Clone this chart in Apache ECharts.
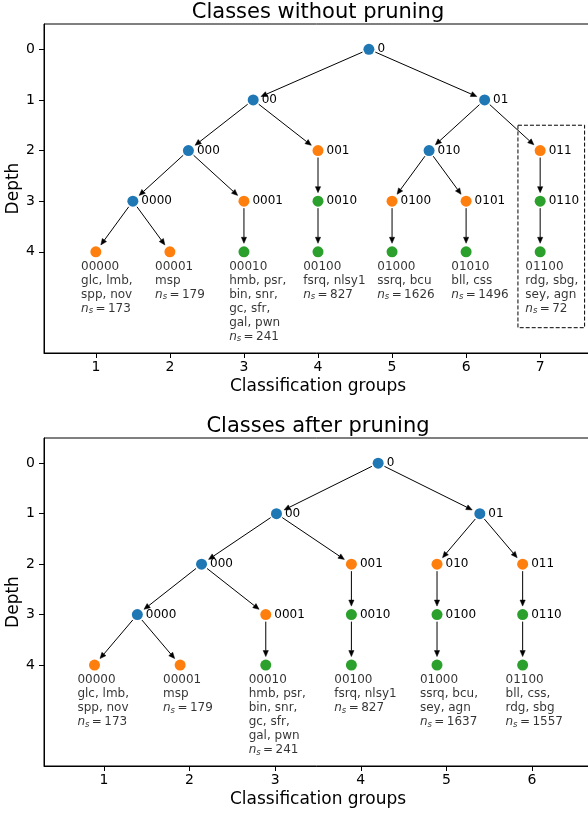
<!DOCTYPE html>
<html>
<head>
<meta charset="utf-8">
<script src="https://cdn.jsdelivr.net/npm/echarts@6/dist/echarts.min.js"></script>
<style>
  html, body { margin: 0; padding: 0; background: #fff; }
  #chart { width: 588px; height: 814px; }
</style>
</head>
<body>
<div id="chart"></div>
<script>
// Classification tree: leaf classes before and after pruning.
const depthTicks = [0, 1, 2, 3, 4];

const fullGroups = [1, 2, 3, 4, 5, 6, 7];
const fullLeafCodes = ['00000', '00001', '00010', '00100', '01000', '01010', '01100'];
const fullLeafClasses = [
  ['glc, lmb,', 'spp, nov'],
  ['msp'],
  ['hmb, psr,', 'bin, snr,', 'gc, sfr,', 'gal, pwn'],
  ['fsrq, nlsy1'],
  ['ssrq, bcu'],
  ['bll, css'],
  ['rdg, sbg,', 'sey, agn']
];
const fullLeafCounts = [173, 179, 241, 827, 1626, 1496, 72];

const prunedGroups = [1, 2, 3, 4, 5, 6];
const prunedLeafCodes = ['00000', '00001', '00010', '00100', '01000', '01100'];
const prunedLeafClasses = [
  ['glc, lmb,', 'spp, nov'],
  ['msp'],
  ['hmb, psr,', 'bin, snr,', 'gc, sfr,', 'gal, pwn'],
  ['fsrq, nlsy1'],
  ['ssrq, bcu,', 'sey, agn'],
  ['bll, css,', 'rdg, sbg']
];
const prunedLeafCounts = [173, 179, 241, 827, 1637, 1557];

// branch of the unpruned tree that collapses into a single chain
const collapsedBranch = '011';

const FONT = 'DejaVu Sans';
const ROLE_COLORS = { split: '#1f77b4', branch: '#ff7f0e', chain: '#2ca02c' };

// Lay the tree out: leaves sit on their group, every inner node sits
// halfway between its children, depth is the code length.
function buildTree(groups, codes, shift) {
  const nodes = {};
  codes.forEach((c, i) => {
    nodes[c] = { code: c, x: groups[i] + shift, depth: c.length - 1, children: [], leaf: i };
  });
  codes.forEach(c => {
    for (let k = 1; k < c.length; k++) {
      const p = c.slice(0, k);
      if (!nodes[p]) nodes[p] = { code: p, depth: k - 1, children: [], leaf: -1 };
    }
  });
  Object.values(nodes).forEach(n => {
    if (n.code.length > 1) nodes[n.code.slice(0, -1)].children.push(n.code);
  });
  Object.values(nodes)
    .sort((a, b) => b.depth - a.depth)
    .forEach(n => {
      if (n.leaf < 0) {
        n.x = n.children.reduce((s, c) => s + nodes[c].x, 0) / n.children.length;
      }
    });
  Object.values(nodes).forEach(n => {
    const parent = n.code.length > 1 ? nodes[n.code.slice(0, -1)] : null;
    if (n.children.length === 2) n.role = 'split';
    else if (parent && parent.children.length === 2) n.role = 'branch';
    else n.role = 'chain';
  });
  return nodes;
}

const richStyles = {
  i: { fontFamily: FONT, fontSize: 12, fontStyle: 'italic', lineHeight: 14, color: '#000' },
  s: { fontFamily: FONT, fontSize: 8.5, fontStyle: 'italic', lineHeight: 14, color: '#000',
       verticalAlign: 'bottom', padding: [0, 0, 0, 0] },
  t: { fontFamily: FONT, fontSize: 12, lineHeight: 14, color: '#000' }
};

function leafText(code, classes, count) {
  return [code].concat(classes).join('\n') +
    '\n{i|n}{s|s}{t|\u2009=\u2009' + count + '}';
}

function treeSeries(nodes, classes, counts, gridIdx) {
  const list = Object.values(nodes);
  const nodeData = list.map(n => ({
    name: n.code,
    value: [n.x, n.depth],
    itemStyle: { color: ROLE_COLORS[n.role], opacity: 1 },
    label: { show: n.leaf < 0 }
  }));
  const edgeData = list
    .filter(n => n.code.length > 1)
    .map(n => {
      const p = nodes[n.code.slice(0, -1)];
      return [p.x, p.depth, n.x, n.depth];
    });
  const textData = list
    .filter(n => n.leaf >= 0)
    .map(n => ({
      value: [n.x - 0.2, n.depth],
      label: { formatter: leafText(n.code, classes[n.leaf], counts[n.leaf]) }
    }));

  return [
    {
      type: 'custom',
      xAxisIndex: gridIdx, yAxisIndex: gridIdx,
      coordinateSystem: 'cartesian2d',
      silent: true,
      z: 2,
      encode: { x: [0, 2], y: [1, 3] },
      data: edgeData,
      renderItem: (params, api) => {
        const a = api.coord([api.value(0), api.value(1)]);
        const b = api.coord([api.value(2), api.value(3)]);
        const dx = b[0] - a[0], dy = b[1] - a[1];
        const L = Math.hypot(dx, dy);
        const ux = dx / L, uy = dy / L;
        const shrinkA = 7, shrinkB = 8.5, headLen = 6, hw = 2.6;
        const s = [a[0] + ux * shrinkA, a[1] + uy * shrinkA];
        const e = [b[0] - ux * shrinkB, b[1] - uy * shrinkB];
        const base = [e[0] - ux * headLen, e[1] - uy * headLen];
        return {
          type: 'group',
          children: [
            { type: 'line', shape: { x1: s[0], y1: s[1], x2: base[0], y2: base[1] },
              style: { stroke: '#000', lineWidth: 1 } },
            { type: 'polygon',
              shape: { points: [e, [base[0] - uy * hw, base[1] + ux * hw], [base[0] + uy * hw, base[1] - ux * hw]] },
              style: { fill: '#000', stroke: '#000', lineWidth: 0.5 } }
          ]
        };
      }
    },
    {
      type: 'scatter',
      xAxisIndex: gridIdx, yAxisIndex: gridIdx,
      symbol: 'circle',
      symbolSize: 11,
      z: 3,
      silent: true,
      itemStyle: { opacity: 1 },
      data: nodeData,
      label: {
        position: 'right', distance: 3, formatter: '{b}',
        fontFamily: FONT, fontSize: 12, color: '#000'
      }
    },
    {
      type: 'scatter',
      xAxisIndex: gridIdx, yAxisIndex: gridIdx,
      symbolSize: 0,
      z: 4,
      silent: true,
      itemStyle: { color: 'rgba(0,0,0,0)' },
      data: textData,
      label: {
        show: true, position: [0, 8], align: 'left', verticalAlign: 'top',
        fontFamily: FONT, fontSize: 12, lineHeight: 14, color: '#000',
        rich: richStyles
      }
    }
  ];
}

const fullTree = buildTree(fullGroups, fullLeafCodes, 0);
const prunedTree = buildTree(prunedGroups, prunedLeafCodes, -0.11);

// dashed frame around the collapsed branch and its chain
const cb = fullTree[collapsedBranch];
const frameSeries = {
  type: 'custom',
  xAxisIndex: 0, yAxisIndex: 0,
  coordinateSystem: 'cartesian2d',
  silent: true,
  z: 1,
  encode: { x: [0, 2], y: [1, 3] },
  data: [[cb.x - 0.3, cb.depth - 0.5, cb.x + 0.6, 5.5]],
  renderItem: (params, api) => {
    const p0 = api.coord([api.value(0), api.value(1)]);
    const p1 = api.coord([api.value(2), api.value(3)]);
    return {
      type: 'rect',
      shape: { x: p0[0], y: p0[1], width: p1[0] - p0[0], height: p1[1] - p0[1] },
      style: { fill: 'none', stroke: '#000', lineWidth: 1, lineDash: [4, 2] }
    };
  }
};

function xAxis(gridIdx, ticks) {
  return {
    type: 'value', gridIndex: gridIdx,
    min: 0.3, max: ticks[ticks.length - 1] + 0.7,
    splitLine: { show: false },
    axisLine: { show: true, onZero: false, lineStyle: { color: '#000', width: 1 } },
    axisTick: { show: true, customValues: ticks, length: 5, lineStyle: { color: '#000', width: 1 } },
    axisLabel: { customValues: ticks, margin: 7, fontFamily: FONT, fontSize: 14, color: '#000' },
    name: 'Classification groups', nameLocation: 'middle', nameGap: 25, nameMoveOverlap: false,
    nameTextStyle: { fontFamily: FONT, fontSize: 17, color: '#000' }
  };
}
function yAxis(gridIdx) {
  return {
    type: 'value', gridIndex: gridIdx, inverse: true,
    min: -0.5, max: 6,
    splitLine: { show: false },
    axisLine: { show: true, onZero: false, lineStyle: { color: '#000', width: 1 } },
    axisTick: { show: true, customValues: depthTicks, length: 5, lineStyle: { color: '#000', width: 1 } },
    axisLabel: { customValues: depthTicks, margin: 9, fontFamily: FONT, fontSize: 14, color: '#000' },
    name: 'Depth', nameLocation: 'middle', nameGap: 22, nameRotate: 90, nameMoveOverlap: false,
    nameTextStyle: { fontFamily: FONT, fontSize: 17, color: '#000' }
  };
}

const chart = echarts.init(document.getElementById('chart'), null, { renderer: 'canvas' });
chart.setOption({
  animation: false,
  backgroundColor: '#fff',
  title: [
    { text: 'Classes without pruning', left: 318, top: 2, textAlign: 'center', padding: 0,
      textStyle: { fontFamily: FONT, fontSize: 21, fontWeight: 'normal', color: '#000' } },
    { text: 'Classes after pruning', left: 318, top: 416, textAlign: 'center', padding: 0,
      textStyle: { fontFamily: FONT, fontSize: 21, fontWeight: 'normal', color: '#000' } }
  ],
  grid: [
    { left: 44, top: 24, width: 548, height: 329, show: true, borderColor: '#000', borderWidth: 1,
      outerBoundsMode: 'none', containLabel: false },
    { left: 44, top: 438, width: 548, height: 328, show: true, borderColor: '#000', borderWidth: 1,
      outerBoundsMode: 'none', containLabel: false }
  ],
  xAxis: [xAxis(0, fullGroups), xAxis(1, prunedGroups)],
  yAxis: [yAxis(0), yAxis(1)],
  series: [frameSeries]
    .concat(treeSeries(fullTree, fullLeafClasses, fullLeafCounts, 0))
    .concat(treeSeries(prunedTree, prunedLeafClasses, prunedLeafCounts, 1))
});
</script>
</body>
</html>
